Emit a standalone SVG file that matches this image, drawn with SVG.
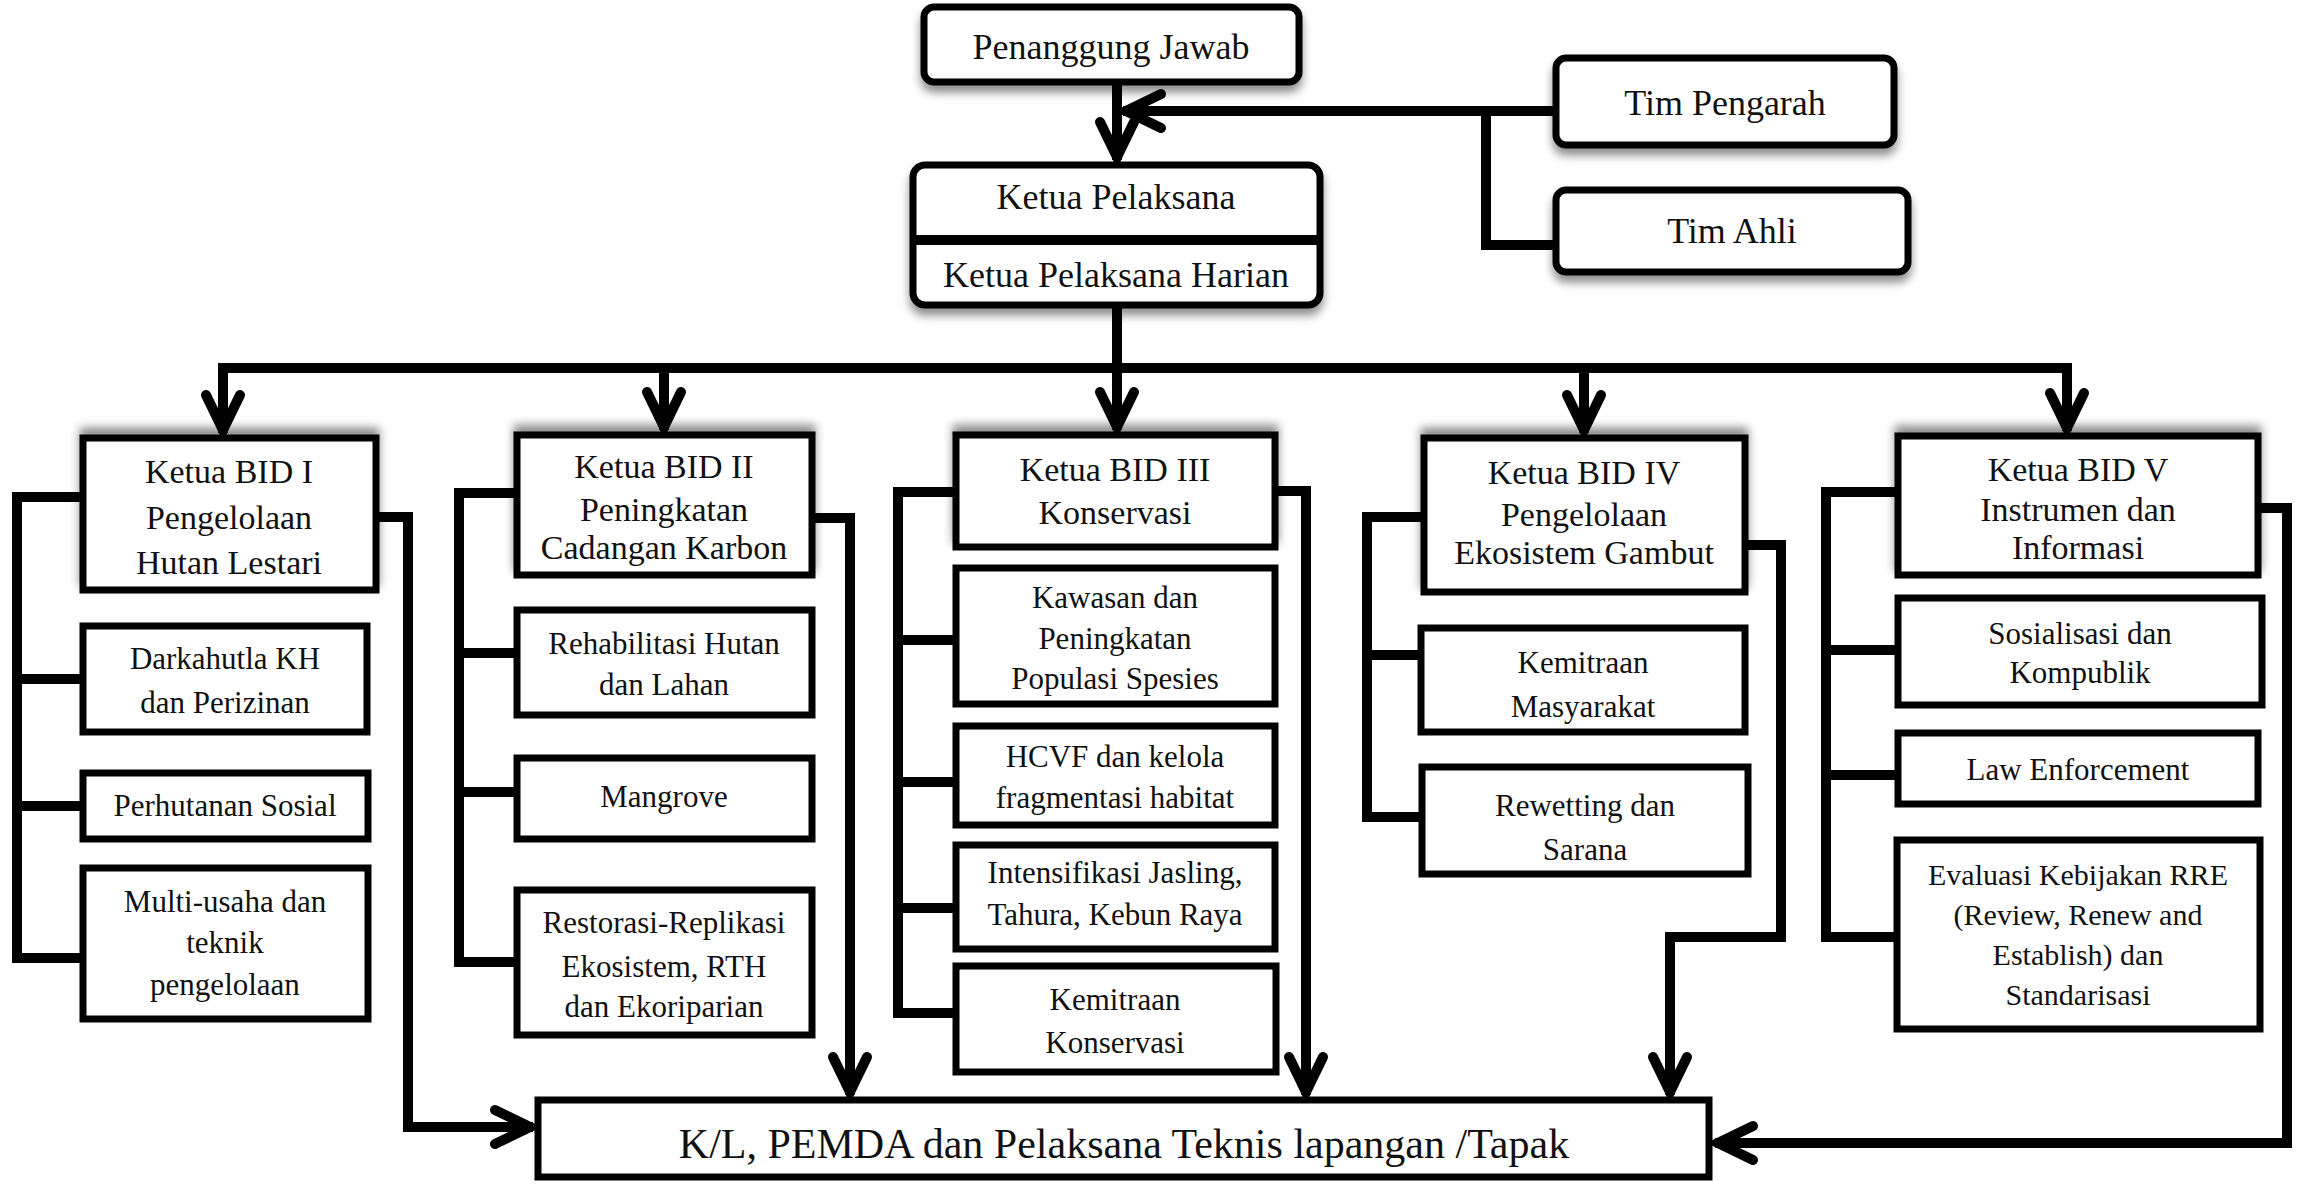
<svg xmlns="http://www.w3.org/2000/svg" width="2305" height="1189" viewBox="0 0 2305 1189">
<style>
.box{fill:#fff;stroke:#000;stroke-width:7}
.t{font-family:"Liberation Serif","Times New Roman",serif;fill:#111;text-anchor:middle}
.top{font-size:36px}
.hd{font-size:34px}
.sb{font-size:31px}
.ev{font-size:30px}
.kl{font-size:42px}
.con{fill:none;stroke:#000;stroke-width:10;stroke-linejoin:miter;stroke-linecap:butt}
</style>
<defs>
<marker id="ah" markerUnits="userSpaceOnUse" markerWidth="60" markerHeight="60" viewBox="-50 -30 60 60" refX="0" refY="0" orient="auto" overflow="visible">
<path d="M-38,-17 L-3,0 L-38,17" fill="none" stroke="#000" stroke-width="10" stroke-linecap="round" stroke-linejoin="miter"/>
</marker>
<filter id="shUp" x="-10%" y="-30%" width="120%" height="160%">
<feGaussianBlur in="SourceAlpha" stdDeviation="5"/>
<feOffset dx="0" dy="-7" result="b"/>
<feComponentTransfer><feFuncA type="linear" slope="0.45"/></feComponentTransfer>
<feMerge><feMergeNode/><feMergeNode in="SourceGraphic"/></feMerge>
</filter>
<filter id="shDn" x="-10%" y="-30%" width="120%" height="160%">
<feGaussianBlur in="SourceAlpha" stdDeviation="5"/>
<feOffset dx="0" dy="7" result="b"/>
<feComponentTransfer><feFuncA type="linear" slope="0.45"/></feComponentTransfer>
<feMerge><feMergeNode/><feMergeNode in="SourceGraphic"/></feMerge>
</filter>
</defs>
<rect width="2305" height="1189" fill="#fff"/>

<g id="connectors">
<path class="con" d="M1117 85 V160" marker-end="url(#ah)"/>
<path class="con" d="M1553 111 H1123" marker-end="url(#ah)"/>
<path class="con" d="M1486 111 V245 H1553"/>
<path class="con" d="M1117 308 V368"/>
<path class="con" d="M218 368 H2072"/>
<path class="con" d="M223 368 V433" marker-end="url(#ah)"/>
<path class="con" d="M664 368 V430" marker-end="url(#ah)"/>
<path class="con" d="M1117 368 V430" marker-end="url(#ah)"/>
<path class="con" d="M1584 368 V433" marker-end="url(#ah)"/>
<path class="con" d="M2067 368 V431" marker-end="url(#ah)"/>
<path class="con" d="M80 497 H17 V958 H80 M17 679 H80 M17 806 H80"/>
<path class="con" d="M379 517 H408 V1127 H533" marker-end="url(#ah)"/>
<path class="con" d="M514 493 H459 V962 H514 M459 653 H514 M459 792 H514"/>
<path class="con" d="M815 518 H850 V1095" marker-end="url(#ah)"/>
<path class="con" d="M953 492 H898 V1013 H953 M898 640 H953 M898 782 H953 M898 908 H953"/>
<path class="con" d="M1278 491 H1306 V1095" marker-end="url(#ah)"/>
<path class="con" d="M1421 517 H1367 V817 H1419 M1367 655 H1418"/>
<path class="con" d="M1748 545 H1781 V937 H1670 V1095" marker-end="url(#ah)"/>
<path class="con" d="M1895 492 H1826 V937 H1894 M1826 650 H1895 M1826 775 H1895"/>
<path class="con" d="M2261 508 H2287 V1143 H1715" marker-end="url(#ah)"/>
</g>

<g id="penanggung-jawab">
<rect class="box" x="924" y="7" width="375" height="75" rx="10" filter="url(#shDn)"/>
<text class="t top" x="1111" y="59">Penanggung Jawab</text>
</g>
<g id="tim-pengarah">
<rect class="box" x="1556" y="58" width="338" height="87" rx="10" filter="url(#shDn)"/>
<text class="t top" x="1725" y="115">Tim Pengarah</text>
</g>
<g id="tim-ahli">
<rect class="box" x="1556" y="190" width="352" height="82" rx="10" filter="url(#shDn)"/>
<text class="t top" x="1732" y="243">Tim Ahli</text>
</g>
<g id="ketua-pelaksana">
<rect class="box" x="913" y="165" width="407" height="140" rx="12" filter="url(#shDn)"/>
<line x1="913" y1="240" x2="1320" y2="240" stroke="#000" stroke-width="10"/>
<text class="t top" x="1116" y="209">Ketua Pelaksana</text>
<text class="t top" x="1116" y="287">Ketua Pelaksana Harian</text>
</g>

<g id="bid1">
<rect class="box" x="83" y="438" width="293" height="152" filter="url(#shUp)"/>
<text class="t hd" x="229" y="483">Ketua BID I</text>
<text class="t hd" x="229" y="529">Pengelolaan</text>
<text class="t hd" x="229" y="574">Hutan Lestari</text>
</g>
<g id="darkahutla">
<rect class="box" x="83" y="626" width="284" height="106"/>
<text class="t sb" x="225" y="669">Darkahutla KH</text>
<text class="t sb" x="225" y="713">dan Perizinan</text>
</g>
<g id="perhutanan-sosial">
<rect class="box" x="83" y="773" width="285" height="66"/>
<text class="t sb" x="225" y="816">Perhutanan Sosial</text>
</g>
<g id="multi-usaha">
<rect class="box" x="83" y="868" width="285" height="151"/>
<text class="t sb" x="225" y="912">Multi-usaha dan</text>
<text class="t sb" x="225" y="953">teknik</text>
<text class="t sb" x="225" y="995">pengelolaan</text>
</g>

<g id="bid2">
<rect class="box" x="517" y="435" width="295" height="140" filter="url(#shUp)"/>
<text class="t hd" x="664" y="478">Ketua BID II</text>
<text class="t hd" x="664" y="521">Peningkatan</text>
<text class="t hd" x="664" y="559">Cadangan Karbon</text>
</g>
<g id="rehabilitasi">
<rect class="box" x="517" y="610" width="295" height="105"/>
<text class="t sb" x="664" y="654">Rehabilitasi Hutan</text>
<text class="t sb" x="664" y="695">dan Lahan</text>
</g>
<g id="mangrove">
<rect class="box" x="517" y="758" width="295" height="81"/>
<text class="t sb" x="664" y="807">Mangrove</text>
</g>
<g id="restorasi">
<rect class="box" x="517" y="890" width="295" height="145"/>
<text class="t sb" x="664" y="933">Restorasi-Replikasi</text>
<text class="t sb" x="664" y="977">Ekosistem, RTH</text>
<text class="t sb" x="664" y="1017">dan Ekoriparian</text>
</g>

<g id="bid3">
<rect class="box" x="956" y="435" width="319" height="112" filter="url(#shUp)"/>
<text class="t hd" x="1115" y="481">Ketua BID III</text>
<text class="t hd" x="1115" y="524">Konservasi</text>
</g>
<g id="kawasan">
<rect class="box" x="956" y="568" width="319" height="136"/>
<text class="t sb" x="1115" y="608">Kawasan dan</text>
<text class="t sb" x="1115" y="649">Peningkatan</text>
<text class="t sb" x="1115" y="689">Populasi Spesies</text>
</g>
<g id="hcvf">
<rect class="box" x="956" y="726" width="319" height="99"/>
<text class="t sb" x="1115" y="767">HCVF dan kelola</text>
<text class="t sb" x="1115" y="808">fragmentasi habitat</text>
</g>
<g id="intensifikasi">
<rect class="box" x="956" y="845" width="319" height="104"/>
<text class="t sb" x="1115" y="883">Intensifikasi Jasling,</text>
<text class="t sb" x="1115" y="925">Tahura, Kebun Raya</text>
</g>
<g id="kemitraan-konservasi">
<rect class="box" x="956" y="966" width="320" height="106"/>
<text class="t sb" x="1115" y="1010">Kemitraan</text>
<text class="t sb" x="1115" y="1053">Konservasi</text>
</g>

<g id="bid4">
<rect class="box" x="1424" y="438" width="321" height="154" filter="url(#shUp)"/>
<text class="t hd" x="1584" y="484">Ketua BID IV</text>
<text class="t hd" x="1584" y="526">Pengelolaan</text>
<text class="t hd" x="1584" y="564">Ekosistem Gambut</text>
</g>
<g id="kemitraan-masyarakat">
<rect class="box" x="1421" y="628" width="324" height="104"/>
<text class="t sb" x="1583" y="673">Kemitraan</text>
<text class="t sb" x="1583" y="717">Masyarakat</text>
</g>
<g id="rewetting">
<rect class="box" x="1422" y="767" width="326" height="107"/>
<text class="t sb" x="1585" y="816">Rewetting dan</text>
<text class="t sb" x="1585" y="860">Sarana</text>
</g>

<g id="bid5">
<rect class="box" x="1898" y="436" width="360" height="139" filter="url(#shUp)"/>
<text class="t hd" x="2078" y="481">Ketua BID V</text>
<text class="t hd" x="2078" y="521">Instrumen dan</text>
<text class="t hd" x="2078" y="559">Informasi</text>
</g>
<g id="sosialisasi">
<rect class="box" x="1898" y="598" width="364" height="107"/>
<text class="t sb" x="2080" y="644">Sosialisasi dan</text>
<text class="t sb" x="2080" y="683">Kompublik</text>
</g>
<g id="law-enforcement">
<rect class="box" x="1898" y="733" width="360" height="71"/>
<text class="t sb" x="2078" y="780">Law Enforcement</text>
</g>
<g id="evaluasi">
<rect class="box" x="1897" y="840" width="363" height="189"/>
<text class="t ev" x="2078" y="885">Evaluasi Kebijakan RRE</text>
<text class="t ev" x="2078" y="925">(Review, Renew and</text>
<text class="t ev" x="2078" y="965">Establish) dan</text>
<text class="t ev" x="2078" y="1005">Standarisasi</text>
</g>

<g id="kl-pemda">
<rect class="box" x="538" y="1100" width="1171" height="77"/>
<text class="t kl" x="1124" y="1158">K/L, PEMDA dan Pelaksana Teknis lapangan /Tapak</text>
</g>
</svg>
